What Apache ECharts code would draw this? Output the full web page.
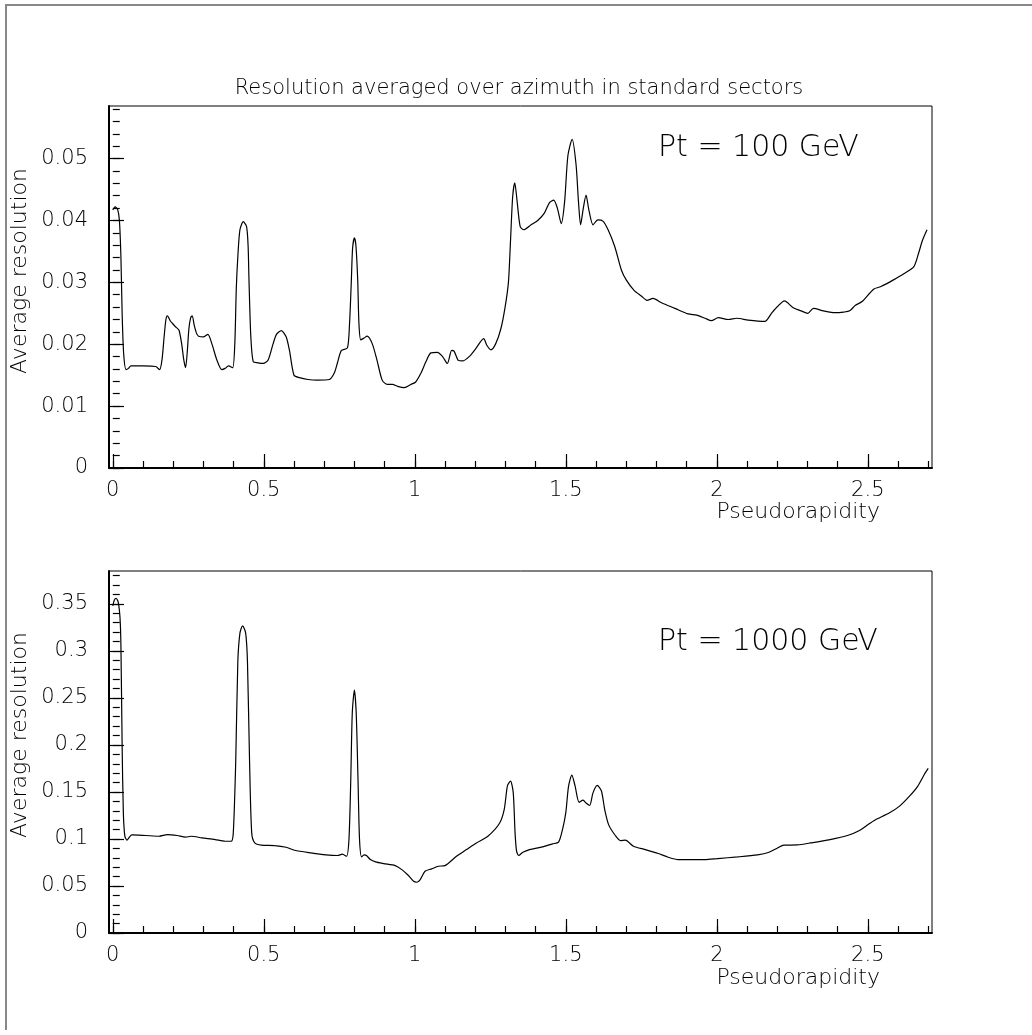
<!DOCTYPE html>
<html><head><meta charset="utf-8">
<script src="https://cdn.jsdelivr.net/npm/echarts@6/dist/echarts.min.js"></script>
<style>html,body{margin:0;padding:0;background:#fff}#c{width:1032px;height:1035px}</style>
</head><body><div id="c"></div><script>
// ---- Data ----
const xTop = [0.000,0.008,0.016,0.022,0.027,0.031,0.036,0.044,0.052,0.060,0.100,0.142,0.155,0.163,0.170,0.176,0.181,0.190,0.197,0.208,0.219,0.228,0.235,0.241,0.247,0.252,0.258,0.263,0.270,0.277,0.284,0.301,0.315,0.328,0.345,0.361,0.372,0.383,0.397,0.404,0.409,0.414,0.421,0.432,0.443,0.448,0.451,0.457,0.465,0.481,0.498,0.514,0.531,0.542,0.558,0.574,0.585,0.600,0.618,0.646,0.678,0.717,0.733,0.744,0.757,0.777,0.784,0.790,0.794,0.800,0.805,0.811,0.815,0.821,0.832,0.842,0.859,0.875,0.892,0.909,0.926,0.943,0.965,0.987,1.003,1.020,1.037,1.053,1.075,1.092,1.108,1.122,1.130,1.144,1.158,1.180,1.202,1.228,1.239,1.252,1.268,1.285,1.299,1.310,1.317,1.324,1.331,1.339,1.349,1.361,1.385,1.407,1.429,1.446,1.460,1.472,1.485,1.496,1.507,1.521,1.534,1.542,1.549,1.558,1.567,1.576,1.590,1.606,1.623,1.640,1.662,1.684,1.700,1.726,1.750,1.769,1.789,1.817,1.861,1.905,1.933,1.961,1.982,2.005,2.038,2.066,2.104,2.159,2.181,2.201,2.224,2.253,2.279,2.301,2.320,2.353,2.392,2.420,2.440,2.459,2.481,2.519,2.542,2.563,2.585,2.619,2.652,2.668,2.681,2.696];
const yTop = [0.0417,0.0422,0.0418,0.0400,0.0340,0.0250,0.0185,0.0159,0.0161,0.0165,0.0165,0.0164,0.0159,0.0175,0.0212,0.0240,0.0246,0.0238,0.0234,0.0228,0.0223,0.0201,0.0175,0.0162,0.0190,0.0225,0.0243,0.0246,0.0230,0.0218,0.0213,0.0212,0.0216,0.0201,0.0174,0.0159,0.0161,0.0165,0.0162,0.0200,0.0290,0.0341,0.0385,0.0398,0.0390,0.0360,0.0304,0.0213,0.0172,0.0170,0.0169,0.0174,0.0201,0.0216,0.0222,0.0212,0.0190,0.0150,0.0146,0.0143,0.0142,0.0143,0.0153,0.0170,0.0190,0.0194,0.0234,0.0304,0.0355,0.0372,0.0360,0.0304,0.0234,0.0207,0.0210,0.0213,0.0201,0.0174,0.0142,0.0135,0.0135,0.0132,0.0130,0.0135,0.0139,0.0153,0.0172,0.0186,0.0187,0.0180,0.0169,0.0190,0.0189,0.0174,0.0173,0.0180,0.0193,0.0209,0.0198,0.0191,0.0201,0.0225,0.0260,0.0300,0.0368,0.0438,0.0461,0.0430,0.0390,0.0385,0.0393,0.0400,0.0412,0.0429,0.0433,0.0420,0.0395,0.0430,0.0505,0.0531,0.0490,0.0430,0.0393,0.0420,0.0441,0.0418,0.0393,0.0401,0.0399,0.0385,0.0358,0.0320,0.0304,0.0287,0.0278,0.0271,0.0274,0.0267,0.0258,0.0249,0.0247,0.0242,0.0238,0.0243,0.0240,0.0242,0.0239,0.0237,0.0250,0.0261,0.0270,0.0259,0.0254,0.0250,0.0258,0.0254,0.0251,0.0252,0.0254,0.0263,0.0269,0.0289,0.0293,0.0298,0.0304,0.0314,0.0325,0.0347,0.0368,0.0385];

const xBot = [0.000,0.005,0.011,0.018,0.024,0.027,0.031,0.035,0.040,0.047,0.055,0.063,0.109,0.153,0.181,0.213,0.241,0.260,0.295,0.339,0.372,0.392,0.399,0.407,0.414,0.421,0.430,0.440,0.446,0.453,0.460,0.470,0.492,0.536,0.574,0.602,0.656,0.706,0.744,0.760,0.774,0.782,0.788,0.793,0.800,0.806,0.812,0.817,0.824,0.832,0.840,0.853,0.870,0.897,0.935,0.957,0.979,0.996,1.007,1.018,1.034,1.056,1.078,1.100,1.138,1.171,1.204,1.242,1.280,1.296,1.307,1.317,1.326,1.332,1.337,1.344,1.358,1.380,1.423,1.456,1.476,1.489,1.500,1.509,1.520,1.531,1.544,1.557,1.568,1.579,1.590,1.604,1.618,1.629,1.642,1.664,1.681,1.697,1.724,1.763,1.806,1.839,1.872,1.916,1.960,2.003,2.069,2.135,2.173,2.200,2.222,2.266,2.310,2.375,2.435,2.474,2.501,2.523,2.572,2.605,2.638,2.665,2.687,2.700];
const yBot = [0.348,0.354,0.356,0.352,0.335,0.305,0.199,0.128,0.103,0.0987,0.102,0.1044,0.1037,0.1029,0.1047,0.1037,0.1019,0.1029,0.1012,0.0994,0.0976,0.0976,0.1065,0.181,0.288,0.319,0.3266,0.319,0.288,0.181,0.1065,0.0958,0.0934,0.0930,0.0912,0.0880,0.0852,0.0831,0.0824,0.0838,0.0816,0.0994,0.163,0.234,0.2584,0.234,0.163,0.0994,0.0809,0.0830,0.0824,0.0781,0.0756,0.0738,0.0717,0.0674,0.0611,0.0550,0.0540,0.0568,0.0657,0.0682,0.0710,0.0717,0.0816,0.0887,0.0958,0.1029,0.1164,0.1313,0.1569,0.1615,0.1490,0.1065,0.0870,0.0824,0.0859,0.0887,0.0916,0.0948,0.0966,0.110,0.128,0.156,0.168,0.156,0.139,0.1413,0.138,0.1356,0.149,0.157,0.151,0.131,0.115,0.1037,0.0983,0.0987,0.0923,0.0887,0.0845,0.0806,0.0781,0.0781,0.0781,0.0792,0.0809,0.0831,0.0859,0.0902,0.0934,0.0937,0.0958,0.0994,0.1040,0.1093,0.1154,0.1200,0.1278,0.1349,0.1455,0.1560,0.1686,0.1750];

// tick labels
const xMajorTicks = [0, 0.5, 1, 1.5, 2, 2.5];
const yTopMajorTicks = [0, 0.01, 0.02, 0.03, 0.04, 0.05];
const yBotMajorTicks = [0, 0.05, 0.1, 0.15, 0.2, 0.25, 0.3, 0.35];
function steps(start, end, step){ const a=[]; for(let i=0; start+i*step<=end+1e-9; i++) a.push(+(start+i*step).toFixed(4)); return a; }
const xMinorTicks = steps(0, 2.7, 0.1);
const yTopMinorTicks = steps(0, 0.058, 0.002);
const yBotMinorTicks = steps(0, 0.38, 0.01);

const titleText = 'Resolution averaged over azimuth in standard sectors';
const ptTop = 'Pt = 100 GeV';
const ptBot = 'Pt = 1000 GeV';
const xName = 'Pseudorapidity';
const yName = 'Average resolution';

// ---- Chart ----
const FF = '"DejaVu Sans", sans-serif';
const FW = 200;
const chart = echarts.init(document.getElementById('c'), null, {renderer:'canvas'});

function xAxes(grid){
  return [{
    type:'value', gridIndex:grid, position:'bottom', min:-0.0125, max:2.7125,
    axisLine:{show:true, onZero:false, lineStyle:{color:'#000', width:2}},
    axisTick:{show:true, inside:true, length:14, customValues:xMajorTicks, lineStyle:{color:'#000', width:1.2}},
    axisLabel:{show:true, customValues:xMajorTicks, margin:12, color:'#000', fontSize:21, fontFamily:FF, fontWeight:FW},
    splitLine:{show:false}
  },{
    type:'value', gridIndex:grid, position:'bottom', min:-0.0125, max:2.7125,
    axisLine:{show:false},
    axisTick:{show:true, inside:true, length:7, customValues:xMinorTicks, lineStyle:{color:'#000', width:1.2}},
    axisLabel:{show:false}, splitLine:{show:false}
  }];
}
function yAxes(grid, max, major, minor){
  return [{
    type:'value', gridIndex:grid, position:'left', min:0, max:max,
    axisLine:{show:true, onZero:false, lineStyle:{color:'#000', width:2}},
    axisTick:{show:true, inside:true, length:15, customValues:major, lineStyle:{color:'#000', width:1.2}},
    axisLabel:{show:true, customValues:major, margin:21, color:'#000', fontSize:21, fontFamily:FF, fontWeight:FW},
    splitLine:{show:false}
  },{
    type:'value', gridIndex:grid, position:'left', min:0, max:max,
    axisLine:{show:false},
    axisTick:{show:true, inside:true, length:7, customValues:minor, lineStyle:{color:'#000', width:1.2}},
    axisLabel:{show:false}, splitLine:{show:false}
  }];
}
function txt(text, x, y, size, align, rot){
  return {type:'text', x:x, y:y, rotation:rot||0, z:10,
    style:{text:text, fill:'#000', font: FW+' '+size+'px '+FF, fontSize:size, fontFamily:FF, fontWeight:FW,
      align:align, textAlign:align, verticalAlign:'middle', textVerticalAlign:'middle'}};
}

chart.setOption({
  animation:false,
  backgroundColor:'#fff',
  grid:[
    {left:109, top:106, width:823, height:362, show:true, borderColor:'#000', borderWidth:1, backgroundColor:'transparent'},
    {left:109, top:571, width:823, height:362, show:true, borderColor:'#000', borderWidth:1, backgroundColor:'transparent'}
  ],
  xAxis: xAxes(0).concat(xAxes(1)),
  yAxis: yAxes(0, 0.0585, yTopMajorTicks, yTopMinorTicks).concat(yAxes(1, 0.385, yBotMajorTicks, yBotMinorTicks)),
  series:[
    {type:'line', xAxisIndex:0, yAxisIndex:0, data:xTop.map((x,i)=>[x,yTop[i]]), showSymbol:false, symbol:'none', smooth:0.25,
      lineStyle:{color:'#000', width:1.2}},
    {type:'line', xAxisIndex:2, yAxisIndex:2, data:xBot.map((x,i)=>[x,yBot[i]]), showSymbol:false, symbol:'none', smooth:0.25,
      lineStyle:{color:'#000', width:1.2}}
  ],
  graphic:[
    {type:'line', shape:{x1:6, y1:5, x2:6, y2:1030}, style:{stroke:'#888', lineWidth:2}},
    {type:'line', shape:{x1:5, y1:5, x2:1032, y2:5}, style:{stroke:'#888', lineWidth:2}},
    txt(titleText, 519, 89, 21, 'center'),
    txt(ptTop, 658, 148, 30, 'left'),
    txt(ptBot, 658, 642, 30, 'left'),
    txt(xName, 880, 512, 22, 'right'),
    txt(xName, 880, 978, 22, 'right'),
    txt(yName, 20, 271, 22, 'center', Math.PI/2),
    txt(yName, 20, 735, 22, 'center', Math.PI/2)
  ]
});
</script></body></html>
